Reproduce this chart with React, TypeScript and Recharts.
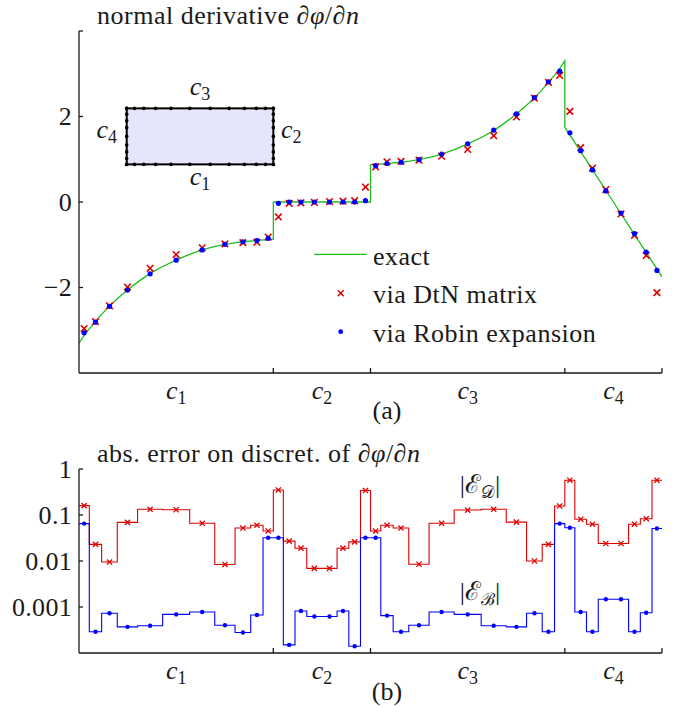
import React from 'react';
import { ComposedChart, Line, Scatter, XAxis, YAxis, ReferenceArea, Legend } from 'recharts';

const FONT = '"Liberation Serif", "Times New Roman", serif';
const FS = 26;
const LS = 0.5;
const RED = '#dd0000';
const BLUE = '#0000ff';
const GREEN = '#1fbf1f';
const INK = '#1a1a1a';

// element edges along the perimeter parameter (c1: 0-2, c2: 2-3, c3: 3-5, c4: 5-6)
const c1Edges = [0, 0.106, 0.233, 0.394, 0.603, 0.861, 1.139, 1.397, 1.606, 1.767, 1.894, 2];
const c2Edges = [2, 2.103, 2.223, 2.344, 2.5, 2.656, 2.777, 2.897, 3];
const c3Edges = [3, 3.106, 3.233, 3.394, 3.603, 3.861, 4.139, 4.397, 4.606, 4.767, 4.894, 5];
const c4Edges = [5, 5.103, 5.223, 5.344, 5.5, 5.656, 5.777, 5.897, 6];
const allEdges = [...c1Edges, ...c2Edges.slice(1), ...c3Edges.slice(1), ...c4Edges.slice(1)];

// element centres (collocation points)
const nodeX = [
  0.053, 0.170, 0.314, 0.499, 0.732, 1.0, 1.268, 1.502, 1.687, 1.831, 1.947,
  2.052, 2.163, 2.284, 2.422, 2.578, 2.717, 2.837, 2.948,
  3.053, 3.170, 3.314, 3.499, 3.732, 4.0, 4.268, 4.502, 4.687, 4.831, 4.947,
  5.052, 5.163, 5.284, 5.422, 5.578, 5.717, 5.837, 5.948,
];

// (a) normal derivative
const exactU = [
  0, 0.053, 0.1, 0.17, 0.24, 0.314, 0.4, 0.499, 0.6, 0.732, 0.85, 1.0, 1.13, 1.268, 1.38, 1.502, 1.6, 1.687, 1.831, 1.947, 2.0,
  2.0, 3.0,
  3.0, 3.053, 3.169, 3.313, 3.4, 3.498, 3.62, 3.732, 3.87, 4.0, 4.15, 4.268, 4.4, 4.501, 4.6, 4.686, 4.76, 4.83, 4.9, 4.947, 5.0,
  5.0, 5.25, 5.5, 5.75, 6.0,
];
const exactV = [
  -3.3, -3.12, -2.98, -2.8, -2.61, -2.43, -2.25, -2.06, -1.88, -1.67, -1.52, -1.36, -1.23, -1.12, -1.05, -0.99, -0.955, -0.93, -0.9, -0.88, -0.87,
  0, 0,
  0.87, 0.88, 0.9, 0.93, 0.955, 0.99, 1.05, 1.12, 1.23, 1.36, 1.52, 1.67, 1.88, 2.06, 2.25, 2.43, 2.61, 2.8, 2.98, 3.12, 3.3,
  1.75, 0.875, 0, -0.875, -1.75,
];
const dtnValues = [
  -2.96, -2.8, -2.43, -1.99, -1.55, -1.23, -1.07, -0.98, -0.95, -0.94, -0.82,
  -0.35, -0.03, -0.02, -0.01, 0.01, 0.02, 0.03, 0.35,
  0.82, 0.94, 0.95, 0.98, 1.07, 1.23, 1.55, 1.99, 2.43, 2.8, 2.96,
  2.12, 1.27, 0.79, 0.29, -0.28, -0.78, -1.25, -2.12,
];
const robinValues = [
  -3.06, -2.81, -2.44, -2.06, -1.68, -1.36, -1.12, -0.99, -0.93, -0.9, -0.85,
  -0.03, 0, 0, 0, 0, 0, 0, 0.03,
  0.85, 0.9, 0.93, 0.99, 1.12, 1.36, 1.68, 2.06, 2.44, 2.81, 3.06,
  1.62, 1.2, 0.75, 0.26, -0.26, -0.74, -1.17, -1.6,
];

// (b) absolute errors
const dtnErrors = [
  0.16, 0.023, 0.0095, 0.069, 0.133, 0.13, 0.066, 0.0084, 0.052, 0.06, 0.045,
  0.35, 0.027, 0.019, 0.0069, 0.0069, 0.019, 0.026, 0.34,
  0.045, 0.06, 0.052, 0.0085, 0.066, 0.128, 0.133, 0.07, 0.01, 0.023, 0.157,
  0.57, 0.081, 0.063, 0.024, 0.024, 0.063, 0.083, 0.57,
];
const robinErrors = [
  0.065, 0.00029, 0.00073, 0.00037, 0.00039, 0.00069, 0.00078, 0.0004, 0.00028, 0.00067, 0.032,
  0.032, 0.00015, 0.00082, 0.00062, 0.00062, 0.00082, 0.00014, 0.032,
  0.032, 0.00065, 0.00029, 0.0004, 0.00078, 0.00069, 0.00039, 0.00037, 0.00073, 0.00029, 0.065,
  0.053, 0.00078, 0.00029, 0.00147, 0.00147, 0.00029, 0.00075, 0.051,
];

// axes
const xTickBoundaries = [2, 3, 5, 6];
const xLabelPositions = [1, 2.5, 4, 5.5];
const xLabelSubs = ['1', '2', '3', '4'];
const yTicksA = [-2, 0, 2, 4];
const yTickLabelsA = ['\u22122', '0', '2', ''];
const yTicksB = [0.001, 0.01, 0.1, 1];
const yTickLabelsB = ['0.001', '0.01', '0.1', '1'];
const legendLabels = ['exact', 'via DtN matrix', 'via Robin expansion'];
const insetBox = { x1: 0.491, x2: 2.0, y1: 0.88, y2: 2.19 };

const exactData = exactU.map((u, i) => ({ x: u, y: exactV[i] }));
const dtnData = nodeX.map((u, i) => ({ x: u, y: dtnValues[i] }));
const robinData = nodeX.map((u, i) => ({ x: u, y: robinValues[i] }));
const stepData = (vals: number[]) =>
  allEdges.map((e, i) => ({ x: e, y: vals[Math.min(i, vals.length - 1)] }));
const dtnErrStep = stepData(dtnErrors);
const robinErrStep = stepData(robinErrors);
const dtnErrPts = nodeX.map((u, i) => ({ x: u, y: dtnErrors[i] }));
const robinErrPts = nodeX.map((u, i) => ({ x: u, y: robinErrors[i] }));

const allTicksX = [...xLabelPositions, ...xTickBoundaries].sort((a, b) => a - b);

function CLabel({ x, y, sub }: { x: number; y: number; sub: string }) {
  return (
    <text x={x} y={y} textAnchor="middle" fontFamily={FONT} fontSize={FS} fill={INK}>
      <tspan fontStyle="italic">c</tspan>
      <tspan fontSize={18} dy={5}>{sub}</tspan>
    </text>
  );
}

const XTick = (props: any) => {
  const { x, y, payload } = props;
  const v = payload.value;
  const bi = xTickBoundaries.indexOf(v);
  const li = xLabelPositions.indexOf(v);
  if (bi >= 0) return <line x1={x} y1={y} x2={x} y2={y - 5} stroke={INK} strokeWidth={1.3} />;
  if (li >= 0) return <CLabel x={x} y={y + 26} sub={xLabelSubs[li]} />;
  return <g />;
};

const makeYTick = (ticks: number[], labels: string[]) => (props: any) => {
  const { x, y, payload } = props;
  const i = ticks.indexOf(payload.value);
  return (
    <g>
      <line x1={x} y1={y} x2={x + 4} y2={y} stroke={INK} strokeWidth={1.3} />
      <text x={x - 7} y={y} dy="0.34em" textAnchor="end" fontFamily={FONT} fontSize={FS} fill={INK} letterSpacing={0.3}>
        {i >= 0 ? labels[i] : ''}
      </text>
    </g>
  );
};

const crossShape = (size: number, w: number) => (props: any) => {
  const { cx, cy } = props;
  return (
    <g>
      <line x1={cx - size} y1={cy - size} x2={cx + size} y2={cy + size} stroke={RED} strokeWidth={w} />
      <line x1={cx - size} y1={cy + size} x2={cx + size} y2={cy - size} stroke={RED} strokeWidth={w} />
    </g>
  );
};
const dotShape = (r: number) => (props: any) => {
  const { cx, cy } = props;
  return <circle cx={cx} cy={cy} r={r} fill={BLUE} />;
};

const InsetShape = (props: any) => {
  const { x, y, width, height } = props;
  const dots: React.ReactNode[] = [];
  c1Edges.forEach((e, i) => dots.push(<circle key={'b' + i} cx={x + (e / 2) * width} cy={y + height} r={1.8} fill="#000" />));
  c3Edges.forEach((e, i) => dots.push(<circle key={'t' + i} cx={x + width - ((e - 3) / 2) * width} cy={y} r={1.8} fill="#000" />));
  c2Edges.forEach((e, i) => dots.push(<circle key={'r' + i} cx={x + width} cy={y + height - (e - 2) * height} r={1.8} fill="#000" />));
  c4Edges.forEach((e, i) => dots.push(<circle key={'l' + i} cx={x} cy={y + (e - 5) * height} r={1.8} fill="#000" />));
  return (
    <g>
      <rect x={x} y={y} width={width} height={height} fill="#e6e6fa" stroke="#000" strokeWidth={2} />
      {dots}
      <CLabel x={x + width / 2} y={y + height + 21} sub="1" />
      <CLabel x={x + width + 18} y={y + height / 2 + 2} sub="2" />
      <CLabel x={x + width / 2} y={y - 13} sub="3" />
      <CLabel x={x - 20} y={y + height / 2 + 2} sub="4" />
    </g>
  );
};

const LegendBox = () => (
  <svg width={340} height={120} style={{ overflow: 'visible' }}>
    <line x1={14} y1={19.3} x2={66.7} y2={19.3} stroke={GREEN} strokeWidth={1.3} />
    {crossShape(3, 1.4)({ cx: 40.7, cy: 58.3 })}
    {dotShape(2.4)({ cx: 40.7, cy: 96.7 })}
    <text x={73} y={30} fontFamily={FONT} fontSize={FS} fill={INK} letterSpacing={LS}>{legendLabels[0]}</text>
    <text x={73} y={68} fontFamily={FONT} fontSize={FS} fill={INK} letterSpacing={LS}>{legendLabels[1]}</text>
    <text x={73} y={107} fontFamily={FONT} fontSize={FS} fill={INK} letterSpacing={LS}>{legendLabels[2]}</text>
  </svg>
);

const axisStyle = { stroke: INK, strokeWidth: 1.3 };

export default function App() {
  return (
    <div style={{ position: 'absolute', left: 0, top: 0, width: 678, height: 706, background: '#fff' }}>
      <div style={{ position: 'absolute', left: 0, top: 0 }}>
        <ComposedChart width={678} height={420} margin={{ top: 31, right: 16, bottom: 17, left: 0 }}>
          <XAxis dataKey="x" type="number" domain={[0, 6]} allowDataOverflow ticks={allTicksX} interval={0}
            tickSize={0} tickMargin={0} tickLine={false} axisLine={axisStyle} tick={XTick} height={30} />
          <YAxis type="number" domain={[-4, 4]} allowDataOverflow ticks={yTicksA} interval={0}
            tickSize={0} tickMargin={0} tickLine={false} axisLine={axisStyle} tick={makeYTick(yTicksA, yTickLabelsA)} width={79} />
          <ReferenceArea x1={insetBox.x1} x2={insetBox.x2} y1={insetBox.y1} y2={insetBox.y2} shape={InsetShape} />
          <Line data={exactData} dataKey="y" type="linear" stroke={GREEN} strokeWidth={1.3} dot={false} isAnimationActive={false} />
          <Scatter data={dtnData} dataKey="y" shape={crossShape(3.3, 1.6)} isAnimationActive={false} />
          <Scatter data={robinData} dataKey="y" shape={dotShape(2.6)} isAnimationActive={false} />
          <Legend content={() => <LegendBox />} layout="vertical" align="center" verticalAlign="middle"
            wrapperStyle={{ left: 300, top: 235, width: 340, height: 120 }} />
        </ComposedChart>
      </div>
      <div style={{ position: 'absolute', left: 0, top: 420 }}>
        <ComposedChart width={678} height={286} margin={{ top: 49, right: 16, bottom: 23, left: 0 }}>
          <XAxis dataKey="x" type="number" domain={[0, 6]} allowDataOverflow ticks={allTicksX} interval={0}
            tickSize={0} tickMargin={0} tickLine={false} axisLine={axisStyle} tick={XTick} height={30} />
          <YAxis type="number" scale="log" domain={[0.0001, 1]} allowDataOverflow ticks={yTicksB} interval={0}
            tickSize={0} tickMargin={0} tickLine={false} axisLine={axisStyle} tick={makeYTick(yTicksB, yTickLabelsB)} width={79} />
          <Line data={dtnErrStep} dataKey="y" type="stepAfter" stroke={RED} strokeWidth={1.1} dot={false} isAnimationActive={false} />
          <Line data={robinErrStep} dataKey="y" type="stepAfter" stroke={BLUE} strokeWidth={1.1} dot={false} isAnimationActive={false} />
          <Scatter data={dtnErrPts} dataKey="y" shape={crossShape(2.6, 1.3)} isAnimationActive={false} />
          <Scatter data={robinErrPts} dataKey="y" shape={dotShape(2.2)} isAnimationActive={false} />
        </ComposedChart>
      </div>
      <svg width={678} height={706} style={{ position: 'absolute', left: 0, top: 0, pointerEvents: 'none' }}>
        <text x={97} y={24} fontFamily={FONT} fontSize={FS} fill={INK} letterSpacing={LS}>
          normal derivative <tspan fontStyle="italic">∂φ</tspan>/<tspan fontStyle="italic">∂n</tspan>
        </text>
        <text x={387} y={419} textAnchor="middle" fontFamily={FONT} fontSize={FS} fill={INK}>(a)</text>
        <text x={97} y={462} fontFamily={FONT} fontSize={FS} fill={INK} letterSpacing={LS}>
          abs. error on discret. of <tspan fontStyle="italic">∂φ</tspan>/<tspan fontStyle="italic">∂n</tspan>
        </text>
        <text x={480} y={493} textAnchor="middle" fontFamily={FONT} fontSize={FS} fill={INK}>
          |<tspan>ℰ</tspan><tspan fontSize={17} dy={5}>𝒟</tspan><tspan dy={-5}>|</tspan>
        </text>
        <text x={480} y={600} textAnchor="middle" fontFamily={FONT} fontSize={FS} fill={INK}>
          |<tspan>ℰ</tspan><tspan fontSize={17} dy={5}>ℬ</tspan><tspan dy={-5}>|</tspan>
        </text>
        <text x={387} y={700} textAnchor="middle" fontFamily={FONT} fontSize={FS} fill={INK}>(b)</text>
      </svg>
    </div>
  );
}
